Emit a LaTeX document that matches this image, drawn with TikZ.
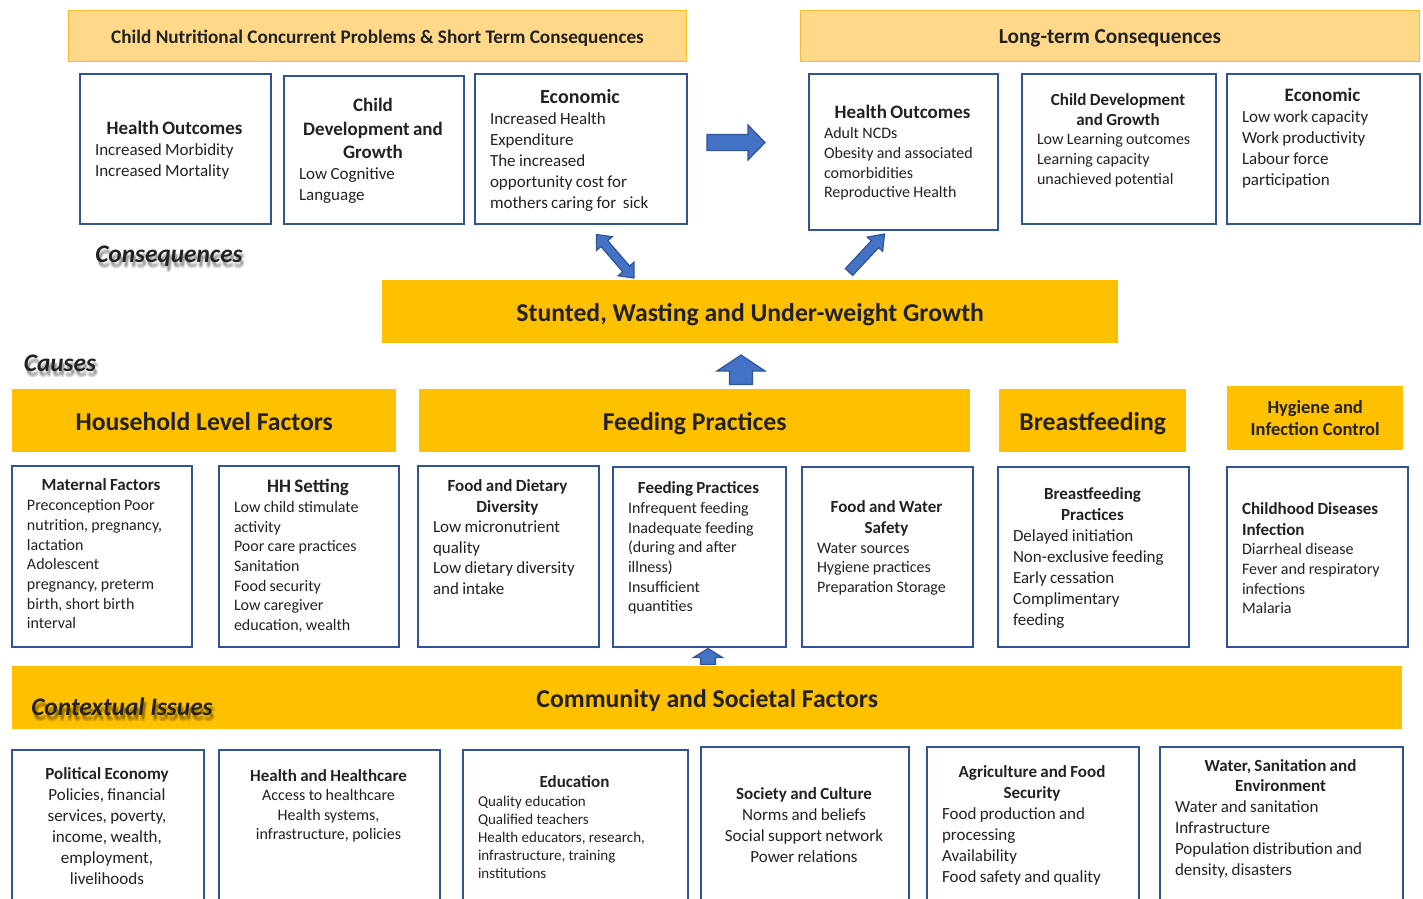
\documentclass[tikz,border=0pt]{standalone}
\usepackage{fontspec}
\setmainfont{Carlito}
\usetikzlibrary{calc}
\definecolor{gold}{HTML}{FFC000}
\definecolor{paleorange}{HTML}{FFD88A}
\definecolor{paleedge}{HTML}{F7BD2A}
\definecolor{frameblue}{HTML}{2F5597}
\definecolor{arrowblue}{HTML}{4472C4}
\definecolor{arrowedge}{HTML}{2F5597}
\definecolor{ink}{HTML}{222222}

\newcommand{\fsz}[2]{\fontsize{#1}{#2}\selectfont}

% block arrow from #1 to #2: shaft half width #3, head half width #4, head length #5
\newcommand{\blockarrow}[5]{%
  \coordinate (#1-n) at ($(#2)!#5!(#1)$);
  \filldraw[blockarr] ($(#1)!#3!90:(#2)$) -- ($(#1-n)!#3!90:(#2)$) -- ($(#1-n)!#4!90:(#2)$) -- (#2)
    -- ($(#1-n)!#4!-90:(#2)$) -- ($(#1-n)!#3!-90:(#2)$) -- ($(#1)!#3!-90:(#2)$) -- cycle;}
% block arrow with heads at both ends
\newcommand{\doubleblockarrow}[5]{%
  \coordinate (#1-n) at ($(#1)!#5!(#2)$);
  \coordinate (#2-n) at ($(#2)!#5!(#1)$);
  \filldraw[blockarr] (#1) -- ($(#1-n)!#4!90:(#2)$) -- ($(#1-n)!#3!90:(#2)$) -- ($(#2-n)!#3!90:(#2)$)
    -- ($(#2-n)!#4!90:(#2)$) -- (#2) -- ($(#2-n)!#4!-90:(#2)$) -- ($(#2-n)!#3!-90:(#2)$)
    -- ($(#1-n)!#3!-90:(#2)$) -- ($(#1-n)!#4!-90:(#2)$) -- cycle;}
% italic section label with a soft drop shadow below it
\newcommand{\shadowlabel}[3]{%
  \foreach \dx/\dy [count=\i] in {1/4,3/4,2/3,2/5,2/6,1/6,3/6,2/4}
    \node[lbl, text=black, text opacity=0.06, shift={(\dx,\dy)}] (#1-s\i) at #2 {#3};
  \node[lbl] (#1) at #2 {#3};}

\begin{document}
\begin{tikzpicture}[x=1pt,y=-1pt,
  bx/.style={draw=frameblue, line width=2pt, fill=white, anchor=north west, inner sep=0pt},
  tx/.style={inner sep=0pt, text=ink, align=left},
  txc/.style={inner sep=0pt, text=ink, align=center},
  band/.style={fill=gold, draw=none, anchor=north west, inner sep=0pt, text=ink,
    align=center, font=\bfseries\fsz{25.7}{30}},
  oneline/.style={text height=21pt, text depth=2pt},
  paleband/.style={fill=paleorange, draw=paleedge, line width=1pt, anchor=north west,
    inner sep=0pt, text=ink, font=\bfseries, text height=15pt, text depth=1pt},
  lbl/.style={inner sep=0pt, text=ink, font=\bfseries\itshape\fsz{25.3}{29}},
  blockarr/.style={fill=arrowblue, draw=arrowedge, line width=1.2pt, line join=miter}
]
\clip (0,0) rectangle (1423,898);
\fill[white] (0,0) rectangle (1423,898);

% ---------- consequence headers ----------
\node[paleband, minimum width=618pt, minimum height=51pt] (hdr1) at (68,10)
  {\fsz{19.2}{23}Child Nutritional Concurrent Problems \& Short Term Consequences};
\node[paleband, minimum width=619pt, minimum height=51pt] (hdr2) at (800,10)
  {\fsz{21.3}{25}Long-term Consequences};

% ---------- short-term consequences ----------
\node[bx, minimum width=191pt, minimum height=150pt] (ho1) at (79,73) {};
\node[tx, text width=159pt] (ho1-t) at (174.5,150)
  {{\centering\bfseries\fsz{19}{22}Health Outcomes\par}\fsz{17}{21}Increased Morbidity\\Increased Mortality\par};
\node[bx, minimum width=180pt, minimum height=148pt] (cd1) at (283,75) {};
\node[tx, text width=148pt] (cd1-t) at (373,151)
  {{\centering\bfseries\fsz{19}{23.5}Child\\Development and\\Growth\par}\fsz{17}{21}Low Cognitive\\Language\par};
\node[bx, minimum width=212pt, minimum height=150pt] (ec1) at (474,73) {};
\node[tx, text width=180pt] (ec1-t) at (580,150)
  {{\centering\bfseries\fsz{20}{23}Economic\par}\fsz{17}{21}Increased Health\\Expenditure\\The increased\\opportunity cost for\\mothers caring for\ \ sick\par};

% ---------- long-term consequences ----------
\node[bx, minimum width=189pt, minimum height=156pt] (ho2) at (808,73) {};
\node[tx, text width=157pt] (ho2-t) at (902.5,153)
  {{\centering\bfseries\fsz{19}{22}Health Outcomes\par}\fsz{16}{19.7}Adult NCDs\\Obesity and associated\\comorbidities\\Reproductive Health\par};
\node[bx, minimum width=194pt, minimum height=150pt] (cd2) at (1021,73) {};
\node[tx, text width=162pt] (cd2-t) at (1118,140)
  {{\centering\bfseries\fsz{17}{20}Child Development\\and Growth\par}\fsz{16}{19.7}Low Learning outcomes\\Learning capacity\\unachieved potential\par};
\node[bx, minimum width=193pt, minimum height=150pt] (ec2) at (1226,73) {};
\node[tx, text width=161pt] (ec2-t) at (1322.5,138)
  {{\centering\bfseries\fsz{19}{22}Economic\par}\fsz{17}{21}Low work capacity\\Work productivity\\Labour force\\participation\par};

\shadowlabel{consq}{(169,256)}{Consequences}

% ---------- central outcome ----------
\node[band, oneline, minimum width=736pt, minimum height=63pt] (sw) at (382,280)
  {Stunted, Wasting and Under-weight Growth};

\shadowlabel{causes}{(60,363)}{Causes}

% ---------- causes: headers ----------
\node[band, oneline, minimum width=384pt, minimum height=63pt] (hl) at (12,389) {Household Level Factors};
\node[band, oneline, minimum width=551pt, minimum height=63pt] (fph) at (419,389) {Feeding Practices};
\node[band, oneline, minimum width=187pt, minimum height=63pt] (bfh) at (999,389) {Breastfeeding};
\node[band, minimum width=176pt, minimum height=64pt, font=\bfseries\fsz{18.5}{22}] (hyh) at (1227,386)
  {Hygiene and\\Infection Control};

% ---------- causes: detail boxes ----------
\node[bx, minimum width=180pt, minimum height=181pt] (mf) at (11,465) {};
\node[tx, text width=148pt] (mf-t) at (101,554)
  {{\centering\bfseries\fsz{17}{21}Maternal Factors\par}\fsz{16}{19.7}Preconception Poor\\nutrition, pregnancy,\\lactation\\Adolescent\\pregnancy, preterm\\birth, short birth\\interval\par};
\node[bx, minimum width=180pt, minimum height=181pt] (hh) at (218,465) {};
\node[tx, text width=148pt] (hh-t) at (308,556)
  {{\centering\bfseries\fsz{19}{22}HH Setting\par}\fsz{16}{19.7}Low child stimulate\\activity\\Poor care practices\\Sanitation\\Food security\\Low caregiver\\education, wealth\par};
\node[bx, minimum width=181pt, minimum height=181pt] (fd) at (417,465) {};
\node[tx, text width=149pt] (fd-t) at (507.5,537)
  {{\centering\bfseries\fsz{17}{21}Food and Dietary\\Diversity\par}\fsz{17}{20.5}Low micronutrient\\quality\\Low dietary diversity\\and intake\par};
\node[bx, minimum width=173pt, minimum height=180pt] (fp) at (612,466) {};
\node[tx, text width=141pt] (fp-t) at (698.5,548)
  {{\centering\bfseries\fsz{17}{21}Feeding Practices\par}\fsz{16}{19.7}Infrequent feeding\\Inadequate feeding\\(during and after\\illness)\\Insufficient\\quantities\par};
\node[bx, minimum width=171pt, minimum height=180pt] (fw) at (801,466) {};
\node[tx, text width=139pt] (fw-t) at (886.5,548)
  {{\centering\bfseries\fsz{17}{21}Food and Water\\Safety\par}\fsz{16}{19.7}Water sources\\Hygiene practices\\Preparation Storage\par};
\node[bx, minimum width=191pt, minimum height=180pt] (bf) at (997,466) {};
\node[tx, text width=159pt] (bf-t) at (1092.5,558)
  {{\centering\bfseries\fsz{17}{21}Breastfeeding\\Practices\par}\fsz{17}{21}Delayed initiation\\Non-exclusive feeding\\Early cessation\\Complimentary\\feeding\par};
\node[bx, minimum width=181pt, minimum height=180pt] (cdi) at (1226,466) {};
\node[tx, text width=149pt] (cdi-t) at (1316.5,558)
  {{\bfseries\fsz{17}{21}Childhood Diseases\\Infection\par}\fsz{16}{19.7}Diarrheal disease\\Fever and respiratory\\infections\\Malaria\par};

% ---------- contextual issues ----------
\node[band, oneline, minimum width=1390pt, minimum height=63pt] (cs) at (12,666) {Community and Societal Factors};
\shadowlabel{ctx}{(122,707)}{Contextual Issues}

\node[bx, minimum width=192pt, minimum height=170pt] (pe) at (11,749) {};
\node[txc, text width=160pt] (pe-t) at (107,826.5)
  {{\bfseries\fsz{17}{21}Political Economy\par}\fsz{17}{21}Policies, financial\\services, poverty,\\income, wealth,\\employment,\\livelihoods\par};
\node[bx, minimum width=221pt, minimum height=170pt] (hc) at (218,749) {};
\node[txc, text width=189pt] (hc-t) at (328.5,806)
  {{\bfseries\fsz{17}{20}Health and Healthcare\par}\fsz{16}{19.5}Access to healthcare\\Health systems,\\infrastructure, policies\par};
\node[bx, minimum width=225pt, minimum height=170pt] (ed) at (462,749) {};
\node[tx, text width=193pt] (ed-t) at (574.5,827.5)
  {{\centering\bfseries\fsz{17}{21}Education\par}\fsz{15}{18.2}Quality education\\Qualified teachers\\Health educators, research,\\infrastructure, training\\institutions\par};
\node[bx, minimum width=208pt, minimum height=170pt] (sc) at (700,746) {};
\node[txc, text width=176pt] (sc-t) at (804,825.5)
  {{\bfseries\fsz{17}{21}Society and Culture\par}\fsz{17}{21}Norms and beliefs\\Social support network\\Power relations\par};
\node[bx, minimum width=212pt, minimum height=170pt] (af) at (926,746) {};
\node[tx, text width=180pt] (af-t) at (1032,825.5)
  {{\centering\bfseries\fsz{17}{21}Agriculture and Food\\Security\par}\fsz{17}{21}Food production and\\processing\\Availability\\Food safety and quality\par};
\node[bx, minimum width=243pt, minimum height=170pt] (ws) at (1159,746) {};
\node[tx, text width=211pt] (ws-t) at (1280.5,819)
  {{\centering\bfseries\fsz{17}{20.5}Water, Sanitation and\\Environment\par}\fsz{17}{21}Water and sanitation\\Infrastructure\\Population distribution and\\density, disasters\par};

% ---------- block arrows ----------
\coordinate (ra-a) at (707,142.5);
\coordinate (ra-b) at (765,142.5);
\blockarrow{ra-a}{ra-b}{8pt}{17.5pt}{17pt}

\coordinate (da-a) at (596.5,234.5);
\coordinate (da-b) at (634,278);
\doubleblockarrow{da-a}{da-b}{4.5pt}{10.5pt}{12pt}

\coordinate (ua-a) at (849,272);
\coordinate (ua-b) at (884.5,234);
\blockarrow{ua-a}{ua-b}{5pt}{10.5pt}{14pt}

\coordinate (up-a) at (741,384.5);
\coordinate (up-b) at (741,355);
\blockarrow{up-a}{up-b}{11.5pt}{24pt}{16pt}

\coordinate (sm-a) at (708,664.5);
\coordinate (sm-b) at (708,648.5);
\blockarrow{sm-a}{sm-b}{7.5pt}{14.5pt}{9pt}
\end{tikzpicture}
\end{document}
